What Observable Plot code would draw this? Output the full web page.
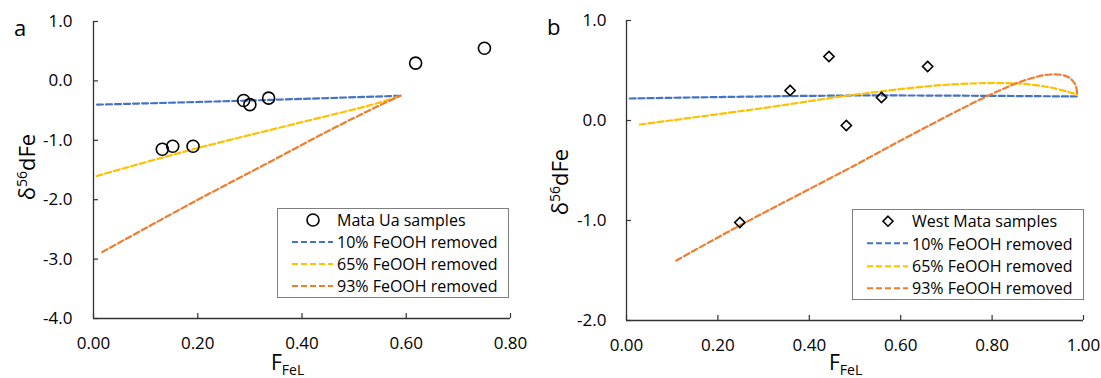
<!DOCTYPE html>
<html><head><meta charset="utf-8">
<script src="https://cdn.jsdelivr.net/npm/d3@7"></script>
<script src="https://cdn.jsdelivr.net/npm/@observablehq/plot@0.6"></script>
<style>
body{margin:0;background:#fff;font-family:"Open Sans",sans-serif;color:#000;}
#wrap{position:relative;width:1101px;height:378px;overflow:hidden;background:#fff;}
.panel{position:absolute;top:0;}
.lbl{position:absolute;white-space:nowrap;color:#000;}
.ttl{font-size:21px;line-height:21px;}
.ttl sub{font-size:14px;vertical-align:-5px;}
.ylbl{font-size:22px;line-height:22px;transform:translate(-50%,-50%) rotate(-90deg);}
.ylbl sup{font-size:14px;vertical-align:8px;}
.plbl{font-size:22px;line-height:22px;}
.legend{position:absolute;border:1px solid #7f7f7f;background:#fff;font-size:16px;box-sizing:border-box;}
.row{display:flex;align-items:center;white-space:nowrap;}
.row svg{flex:none;}
</style>
</head><body>
<div id="wrap"></div>
<script>
// ---------- data ----------
// Panel a: Mata Ua
const mataUaF = [0.132, 0.152, 0.191, 0.288, 0.300, 0.336, 0.618, 0.750];
const mataUaD = [-1.15, -1.10, -1.10, -0.33, -0.40, -0.29, 0.30, 0.55];
const aBlueF = [0.007, 0.30, 0.589];
const aBlueD = [-0.40, -0.33, -0.25];
const aYellowF = [0.006, 0.196, 0.388, 0.547, 0.589];
const aYellowD = [-1.60, -1.14, -0.72, -0.37, -0.25];
const aOrangeF = [0.017, 0.196, 0.324, 0.451, 0.547, 0.589];
const aOrangeD = [-2.88, -2.02, -1.43, -0.84, -0.42, -0.25];
const aXTicks = [0, 0.2, 0.4, 0.6, 0.8];
const aYTicks = [1, 0, -1, -2, -3, -4];

// Panel b: West Mata
const westMataF = [0.248, 0.358, 0.443, 0.481, 0.558, 0.659];
const westMataD = [-1.02, 0.30, 0.64, -0.05, 0.23, 0.54];
const bBlueF = [0.007, 0.503, 0.986];
const bBlueD = [0.22, 0.25, 0.24];
const bYellowF = [0.029, 0.292, 0.503, 0.709, 0.855, 0.928, 0.986];
const bYellowD = [-0.04, 0.12, 0.26, 0.36, 0.37, 0.33, 0.26];
const bOrangeF = [0.109, 0.248, 0.503, 0.600, 0.797, 0.877, 0.928, 0.964, 0.982, 0.986];
const bOrangeD = [-1.40, -1.05, -0.44, -0.20, 0.26, 0.41, 0.46, 0.44, 0.36, 0.26];
const bXTicks = [0, 0.2, 0.4, 0.6, 0.8, 1.0];
const bYTicks = [1, 0, -1, -2];

const seriesNames = ["10% FeOOH removed", "65% FeOOH removed", "93% FeOOH removed"];
const seriesColors = ["#4472C4", "#FFC000", "#ED7D31"];
const DASH = "6,3";
const AXIS = "#333";

const zip = (xs, ys) => xs.map((x, i) => ({x, y: ys[i]}));

function panel({width, marginLeft, marginRight, marginTop, marginBottom, xDomain, yDomain, xTicks, yTicks, lines, samples, symbol, r, tickPadX, tickPadY}) {
  const height = 378;
  const plotW = width - marginLeft - marginRight;
  const plotH = height - marginTop - marginBottom;
  return Plot.plot({
    width, height, marginLeft, marginRight, marginTop, marginBottom,
    x: {domain: xDomain}, y: {domain: yDomain},
    style: {fontFamily: "'Open Sans', sans-serif", fontSize: "17px", color: "#000", background: "transparent", overflow: "visible"},
    marks: [
      Plot.axisX(xTicks, {tickSize: 0, tickPadding: tickPadX, tickFormat: d => d.toFixed(2), fontSize: 17, fill: "#000", label: null}),
      Plot.axisY(yTicks, {tickSize: 0, tickPadding: tickPadY, tickFormat: d => d.toFixed(1), fontSize: 17, fill: "#000", label: null}),
      Plot.tickX(xTicks, {x: d => d, insetTop: plotH - 5, stroke: AXIS, strokeWidth: 1.2}),
      Plot.tickY(yTicks, {y: d => d, insetRight: plotW - 5, stroke: AXIS, strokeWidth: 1.2}),
      Plot.ruleX([xDomain[0]], {stroke: AXIS, strokeWidth: 1.3}),
      Plot.ruleY([yDomain[0]], {stroke: AXIS, strokeWidth: 1.3}),
      ...lines.map((l, i) => Plot.line(l, {x: "x", y: "y", stroke: seriesColors[i], strokeWidth: 2.2, strokeDasharray: DASH, curve: "catmull-rom"})),
      Plot.dot(samples, {x: "x", y: "y", symbol, r, stroke: "#000", strokeWidth: 1.6, fill: "none"})
    ]
  });
}

const wrap = document.getElementById("wrap");

const pa = panel({
  width: 540, marginLeft: 93, marginRight: 30, marginTop: 21, marginBottom: 60,
  xDomain: [0, 0.8], yDomain: [-4, 1], xTicks: aXTicks, yTicks: aYTicks,
  lines: [zip(aBlueF, aBlueD), zip(aYellowF, aYellowD), zip(aOrangeF, aOrangeD)],
  samples: zip(mataUaF, mataUaD), symbol: "circle", r: 6, tickPadX: 18, tickPadY: 21
});
pa.classList.add("panel"); pa.style.left = "0px";
wrap.appendChild(pa);

const pb = panel({
  width: 561, marginLeft: 86, marginRight: 18, marginTop: 20, marginBottom: 58,
  xDomain: [0, 1], yDomain: [-2, 1], xTicks: bXTicks, yTicks: bYTicks,
  lines: [zip(bBlueF, bBlueD), zip(bYellowF, bYellowD), zip(bOrangeF, bOrangeD)],
  samples: zip(westMataF, westMataD), symbol: "diamond2", r: 4.6, tickPadX: 18, tickPadY: 20
});
pb.classList.add("panel"); pb.style.left = "540px";
wrap.appendChild(pb);

// ---------- text labels ----------
function addLabel(html, cls, css) {
  const d = document.createElement("div");
  d.className = "lbl " + cls;
  d.innerHTML = html;
  Object.assign(d.style, css);
  wrap.appendChild(d);
}
addLabel("a", "plbl", {left: "14px", top: "16px"});
addLabel("b", "plbl", {left: "547px", top: "15px"});
addLabel("F<sub>FeL</sub>", "ttl", {left: "271px", top: "352px"});
addLabel("F<sub>FeL</sub>", "ttl", {left: "829px", top: "352px"});
addLabel("&delta;<sup>56</sup>dFe", "ylbl", {left: "24px", top: "167px"});
addLabel("&delta;<sup>56</sup>dFe", "ylbl", {left: "557px", top: "182px"});

// ---------- legends ----------
function addLegend(sampleName, symbol, box, rowH) {
  const lg = document.createElement("div");
  lg.className = "legend";
  Object.assign(lg.style, {left: box[0] + "px", top: box[1] + "px", width: box[2] + "px", height: box[3] + "px"});
  const entries = [{name: sampleName, type: "sym"}].concat(seriesNames.map((n, i) => ({name: n, type: "line", color: seriesColors[i]})));
  entries.forEach(e => {
    const row = document.createElement("div");
    row.className = "row";
    row.style.height = rowH + "px";
    let g;
    if (e.type === "sym") {
      g = symbol === "circle"
        ? `<circle cx="35" cy="${rowH / 2}" r="6" fill="none" stroke="#000" stroke-width="1.6"/>`
        : `<path d="M35,${rowH / 2 - 5}L40,${rowH / 2}L35,${rowH / 2 + 5}L30,${rowH / 2}Z" fill="none" stroke="#000" stroke-width="1.6"/>`;
    } else {
      g = `<line x1="14" x2="55" y1="${rowH / 2}" y2="${rowH / 2}" stroke="${e.color}" stroke-width="2" stroke-dasharray="${DASH}"/>`;
    }
    row.innerHTML = `<svg width="59" height="${rowH}">${g}</svg><span>${e.name}</span>`;
    lg.appendChild(row);
  });
  wrap.appendChild(lg);
}
addLegend("Mata Ua samples", "circle", [277, 208, 232, 90], 22);
addLegend("West Mata samples", "diamond", [852, 209, 232, 91], 22.4);
</script>
</body></html>
